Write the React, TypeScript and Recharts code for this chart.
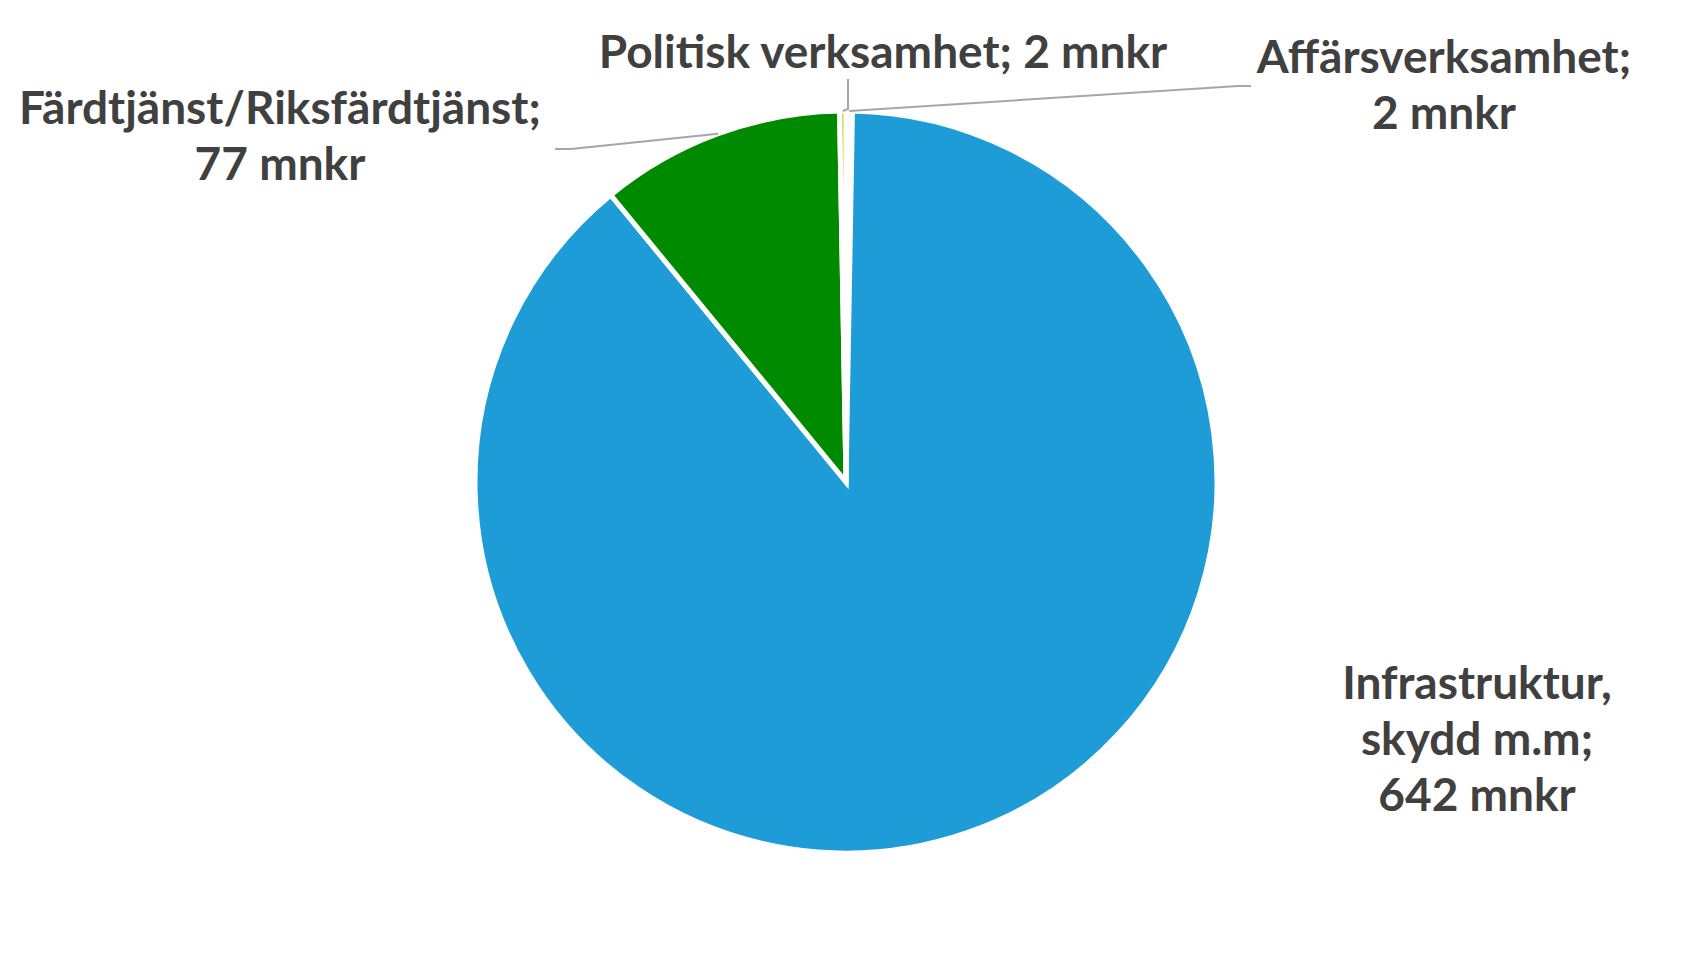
import { Pie, PieChart, Cell } from 'recharts';

// slices in drawing order, clockwise from 12 o'clock
const categories = ['Affärsverksamhet', 'Infrastruktur, skydd m.m', 'Färdtjänst/Riksfärdtjänst', 'Politisk verksamhet'];
const values = [2, 642, 77, 2];
const labelLines = [
  ['Affärsverksamhet;', '2 mnkr'],
  ['Infrastruktur,', 'skydd m.m;', '642 mnkr'],
  ['Färdtjänst/Riksfärdtjänst;', '77 mnkr'],
  ['Politisk verksamhet; 2 mnkr'],
];

const colors = ['#F4F4F4', '#1E9CD8', '#008A00', '#C8D22A'];

// label placement relative to the pie centre, plus leader line bends
const labelLayout: Record<string, { dx: number; dy: number; bend?: [number, number][] }> = {
  Affärsverksamhet: { dx: 598, dy: -409, bend: [[392, -396], [405, -396]] },
  'Infrastruktur, skydd m.m': { dx: 631, dy: 217 },
  'Färdtjänst/Riksfärdtjänst': { dx: -566, dy: -358, bend: [[-275, -333], [-291, -333]] },
  'Politisk verksamhet': { dx: 37, dy: -414, bend: [[2, -373], [2, -403]] },
};

const data = categories.map((name, i) => ({ name, value: values[i], lines: labelLines[i] }));

const RAD = Math.PI / 180;
const LINE_H = 56;

const renderLabel = (props: any) => {
  const { cx, cy, midAngle, outerRadius, name, index } = props;
  const layout = labelLayout[name];
  const lines = data[index].lines;
  const sx = cx + outerRadius * Math.cos(-midAngle * RAD);
  const sy = cy + outerRadius * Math.sin(-midAngle * RAD);
  const pts = layout.bend
    ? [[sx, sy], ...layout.bend.map(([x, y]) => [cx + x, cy + y])].map((p) => p.join(',')).join(' ')
    : null;
  return (
    <g key={`lbl-${index}`}>
      {pts && <polyline points={pts} fill="none" stroke="#A6A6A6" strokeWidth={2} />}
      <text
        x={cx + layout.dx}
        y={cy + layout.dy}
        textAnchor="middle"
        fill="#404040"
        fontFamily="Lato, 'Open Sans', sans-serif"
        fontWeight={700}
        fontSize={46}
      >
        {lines.map((l: string, i: number) => (
          <tspan key={i} x={cx + layout.dx} dy={i === 0 ? 0 : LINE_H}>
            {l}
          </tspan>
        ))}
      </text>
    </g>
  );
};

export default function App() {
  return (
    <div style={{ position: 'absolute', left: 0, top: 0, width: 1691, height: 965, background: '#fff' }}>
      <PieChart width={1691} height={965} margin={{ top: 0, right: 0, bottom: 0, left: 0 }}>
        <Pie
          data={data}
          dataKey="value"
          nameKey="name"
          cx={846}
          cy={482}
          outerRadius={371}
          startAngle={90}
          endAngle={-270}
          stroke="#ffffff"
          strokeWidth={5}
          label={renderLabel}
          labelLine={false}
          isAnimationActive={false}
        >
          {data.map((d, i) => (
            <Cell key={d.name} fill={colors[i]} />
          ))}
        </Pie>
      </PieChart>
    </div>
  );
}
